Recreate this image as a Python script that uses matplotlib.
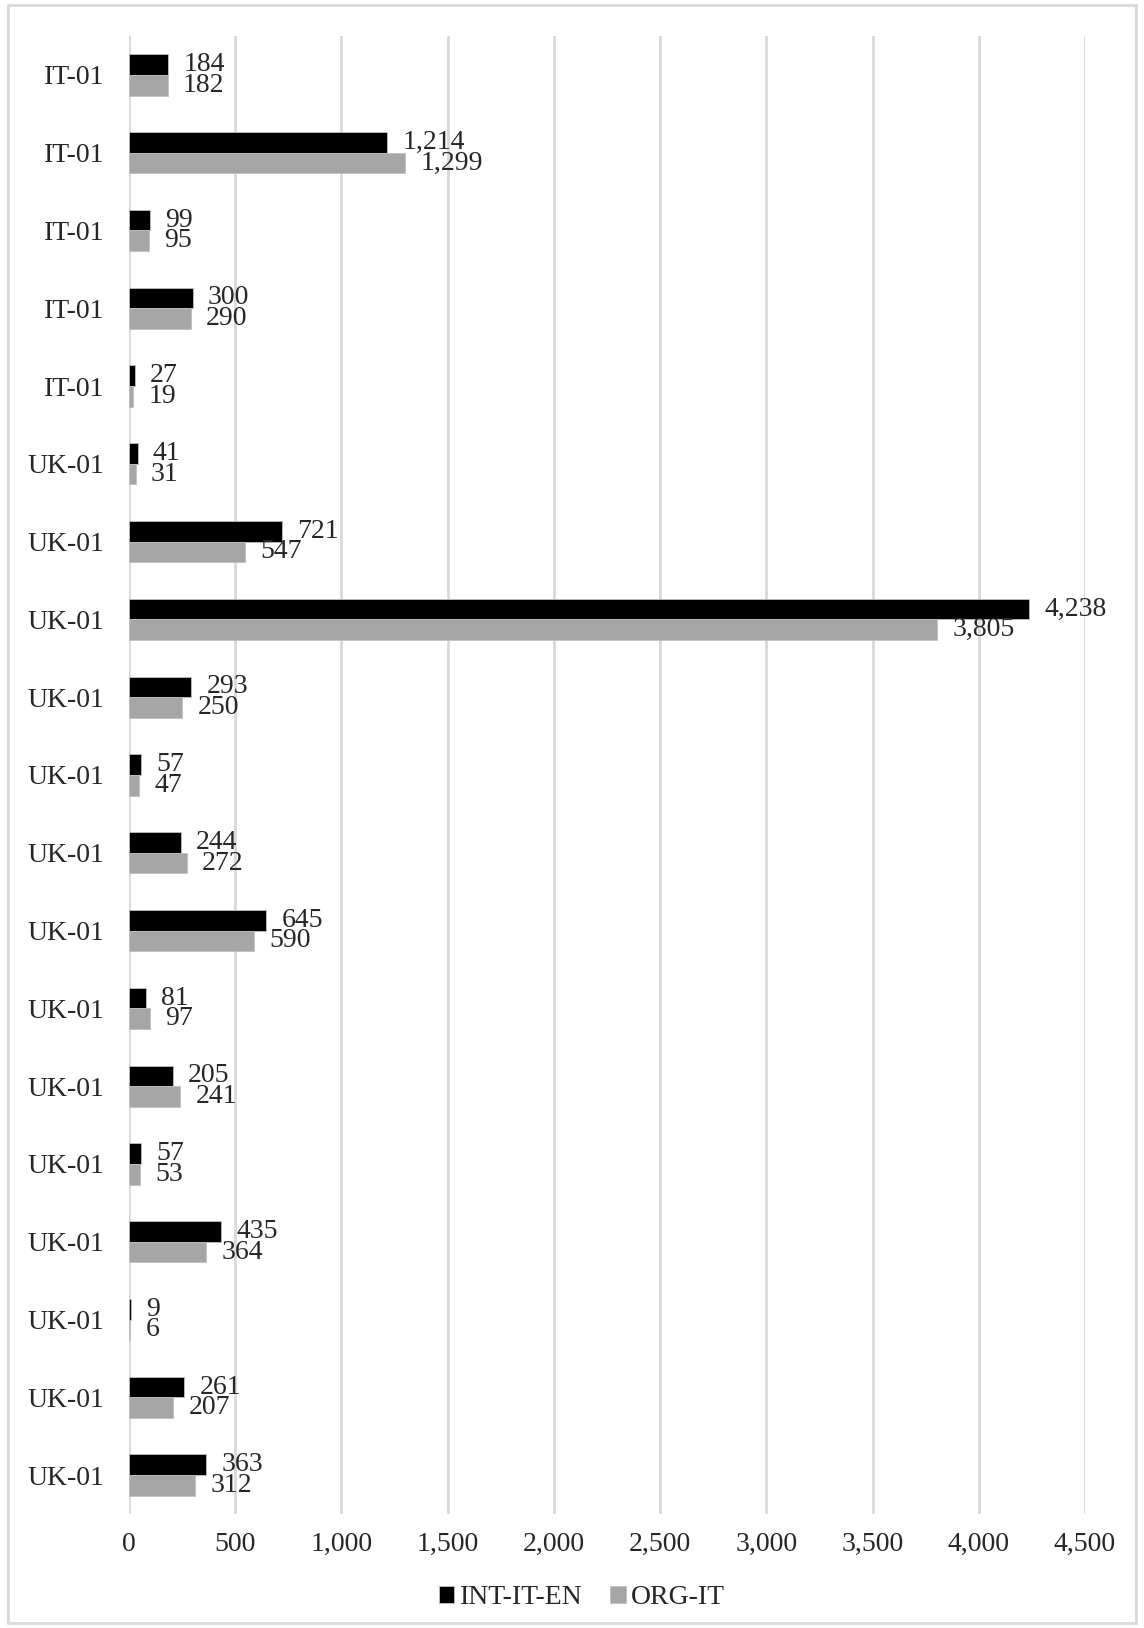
import matplotlib
matplotlib.use("Agg")
import matplotlib.pyplot as plt
import numpy as np
from matplotlib.patches import Rectangle

plt.rcParams['font.family'] = ['Liberation Serif', 'DejaVu Serif']

categories = ["IT-01"] * 5 + ["UK-01"] * 14
int_it_en = [184, 1214, 99, 300, 27, 41, 721, 4238, 293, 57, 244, 645, 81, 205, 57, 435, 9, 261, 363]
org_it = [182, 1299, 95, 290, 19, 31, 547, 3805, 250, 47, 272, 590, 97, 241, 53, 364, 6, 207, 312]
series_names = ["INT-IT-EN", "ORG-IT"]
xticks = [0, 500, 1000, 1500, 2000, 2500, 3000, 3500, 4000, 4500]

FS = 20
W, H = 1144, 1628
fig = plt.figure(figsize=(W / 100, H / 100), dpi=100)
ax = fig.add_axes([129 / W, 1 - 1514 / H, (1085 - 129) / W, (1514 - 36) / H])

y = np.arange(len(categories))
h = 0.265
b1 = ax.barh(y - h / 2, int_it_en, height=h, color="black", edgecolor="#bfbfbf", linewidth=0.6, label=series_names[0], zorder=3)
b2 = ax.barh(y + h / 2, org_it, height=h, color="#a6a6a6", edgecolor="#bfbfbf", linewidth=0.6, label=series_names[1], zorder=3)

for bars, vals in ((b1, int_it_en), (b2, org_it)):
    for bar, v in zip(bars, vals):
        ax.annotate(f"{v:,}", xy=(v, bar.get_y() + bar.get_height() / 2),
                    xytext=(11, 0), textcoords="offset points",
                    ha="left", va="center", fontsize=FS, color="#262626")

ax.set_ylim(len(categories) - 0.5, -0.5)
ax.set_xlim(0, 4500)
ax.set_xticks(xticks)
ax.set_xticklabels([f"{t:,}" for t in xticks])
ax.set_yticks(y)
ax.set_yticklabels(categories)
ax.tick_params(axis="both", length=0, labelsize=FS, colors="#262626")
ax.tick_params(axis="y", pad=18)
ax.tick_params(axis="x", pad=13)
ax.grid(axis="x", color="#d9d9d9", linewidth=2, zorder=0)
for s in ax.spines.values():
    s.set_visible(False)

leg = fig.legend(handles=[b1, b2], labels=series_names, loc="center",
                 bbox_to_anchor=(582 / W, 1 - 1598 / H), ncol=2, frameon=False,
                 fontsize=FS, handlelength=0.55, handleheight=0.55, handletextpad=0.2,
                 columnspacing=1.0)
for t in leg.get_texts():
    t.set_color("#262626")

fig.patches.append(Rectangle((8 / W, 5 / H), (1136 - 8) / W, (1623 - 5) / H,
                             transform=fig.transFigure, fill=False,
                             edgecolor="#d9d9d9", linewidth=2))

fig.savefig("out.png", dpi=100, facecolor="white")
